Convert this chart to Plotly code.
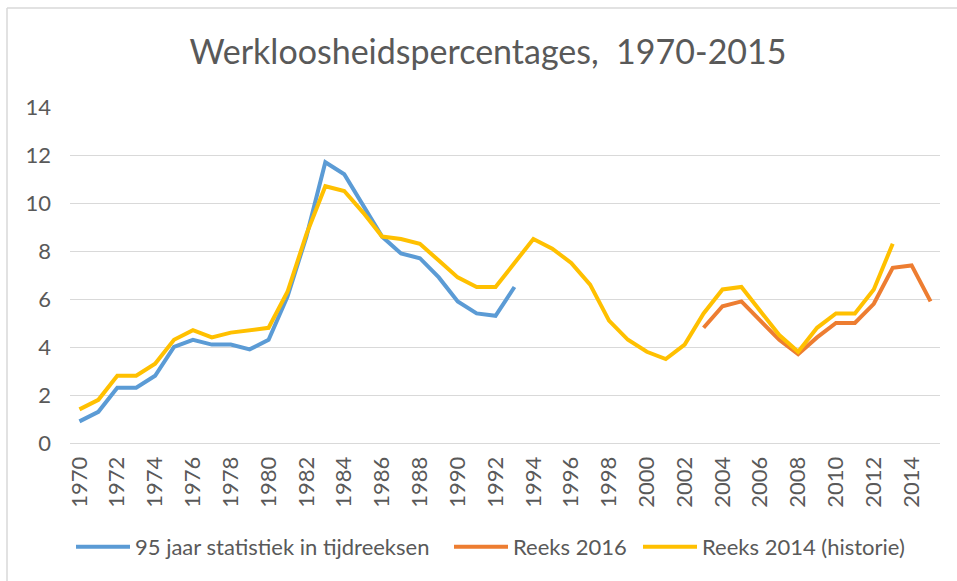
import plotly.graph_objects as go

# ---- data ----
years_95jaar = list(range(1970, 1994))
values_95jaar = [0.9, 1.3, 2.3, 2.3, 2.8, 4.0, 4.3, 4.1, 4.1, 3.9, 4.3, 6.1,
                 8.6, 11.7, 11.2, 9.9, 8.6, 7.9, 7.7, 6.9, 5.9, 5.4, 5.3, 6.5]

years_2016 = list(range(2003, 2016))
values_2016 = [4.8, 5.7, 5.9, 5.1, 4.3, 3.7, 4.4, 5.0, 5.0, 5.8, 7.3, 7.4, 5.9]

years_2014 = list(range(1970, 2014))
values_2014 = [1.4, 1.8, 2.8, 2.8, 3.3, 4.3, 4.7, 4.4, 4.6, 4.7, 4.8, 6.3,
               8.7, 10.7, 10.5, 9.6, 8.6, 8.5, 8.3, 7.6, 6.9, 6.5, 6.5, 7.5,
               8.5, 8.1, 7.5, 6.6, 5.1, 4.3, 3.8, 3.5, 4.1, 5.4, 6.4, 6.5,
               5.5, 4.5, 3.8, 4.8, 5.4, 5.4, 6.4, 8.3]

x_tick_years = list(range(1970, 2016, 2))
y_tick_values = [0, 2, 4, 6, 8, 10, 12, 14]

series_names = ["95 jaar statistiek in tijdreeksen", "Reeks 2016", "Reeks 2014 (historie)"]
title_text = "Werkloosheidspercentages,  1970-2015"

# ---- figure ----
FONT = "Lato, Liberation Sans, sans-serif"
TXT = "#595959"
GRID = "#d9d9d9"
COLORS = ["#5B9BD5", "#ED7D31", "#FFC000"]

W, H = 957, 581
L, R, T, B = 70, 17, 107, 138
pw, ph = W - L - R, H - T - B


def px_x(p):
    return (p - L) / pw


def px_y(p):
    return (H - B - p) / ph


fig = go.Figure()
fig.add_trace(go.Scatter(x=years_95jaar, y=values_95jaar, mode="lines",
                         name=series_names[0], legend="legend",
                         line=dict(color=COLORS[0], width=4)))
fig.add_trace(go.Scatter(x=years_2016, y=values_2016, mode="lines",
                         name=series_names[1], legend="legend2",
                         line=dict(color=COLORS[1], width=4)))
fig.add_trace(go.Scatter(x=years_2014, y=values_2014, mode="lines",
                         name=series_names[2], legend="legend3",
                         line=dict(color=COLORS[2], width=4)))


def make_legend(x_px):
    return dict(orientation="h", x=px_x(x_px), xanchor="left",
                y=px_y(547), yanchor="middle",
                font=dict(family=FONT, size=22, color=TXT),
                itemwidth=54, bgcolor="rgba(0,0,0,0)", borderwidth=0)


fig.update_layout(
    width=W, height=H,
    margin=dict(l=L, r=R, t=T, b=B, pad=0, autoexpand=False),
    paper_bgcolor="white", plot_bgcolor="white",
    font=dict(family=FONT, color=TXT, size=22),
    title=dict(text=title_text, x=488 / W, xanchor="center",
               y=1 - 52 / H, yanchor="middle",
               font=dict(family=FONT, size=34, color=TXT)),
    showlegend=True,
    legend=make_legend(71),
    legend2=make_legend(449),
    legend3=make_legend(638),
    xaxis=dict(range=[1969.5, 2015.5], tickmode="array", tickvals=x_tick_years,
               ticktext=[str(v) for v in x_tick_years], tickangle=-90,
               showgrid=False, zeroline=False, showline=True, linecolor=GRID,
               linewidth=1, ticks="", tickfont=dict(size=22, color=TXT),
               ticklabelstandoff=4, automargin=False, fixedrange=True),
    yaxis=dict(range=[0, 14], tickmode="array", tickvals=y_tick_values,
               showgrid=True, gridcolor=GRID, gridwidth=1, zeroline=False,
               showline=False, ticks="", tickfont=dict(size=22, color=TXT),
               ticklabelstandoff=18, automargin=False, fixedrange=True),
    shapes=[
        dict(type="line", xref="paper", yref="paper",
             x0=px_x(7), x1=px_x(7), y0=px_y(H + 5), y1=px_y(8),
             line=dict(color=GRID, width=1.5)),
        dict(type="line", xref="paper", yref="paper",
             x0=px_x(7), x1=px_x(W + 5), y0=px_y(8), y1=px_y(8),
             line=dict(color=GRID, width=1.5)),
    ],
)

fig.write_html("out.html", config={"displayModeBar": False},
               post_script="document.body.style.margin='0';")
